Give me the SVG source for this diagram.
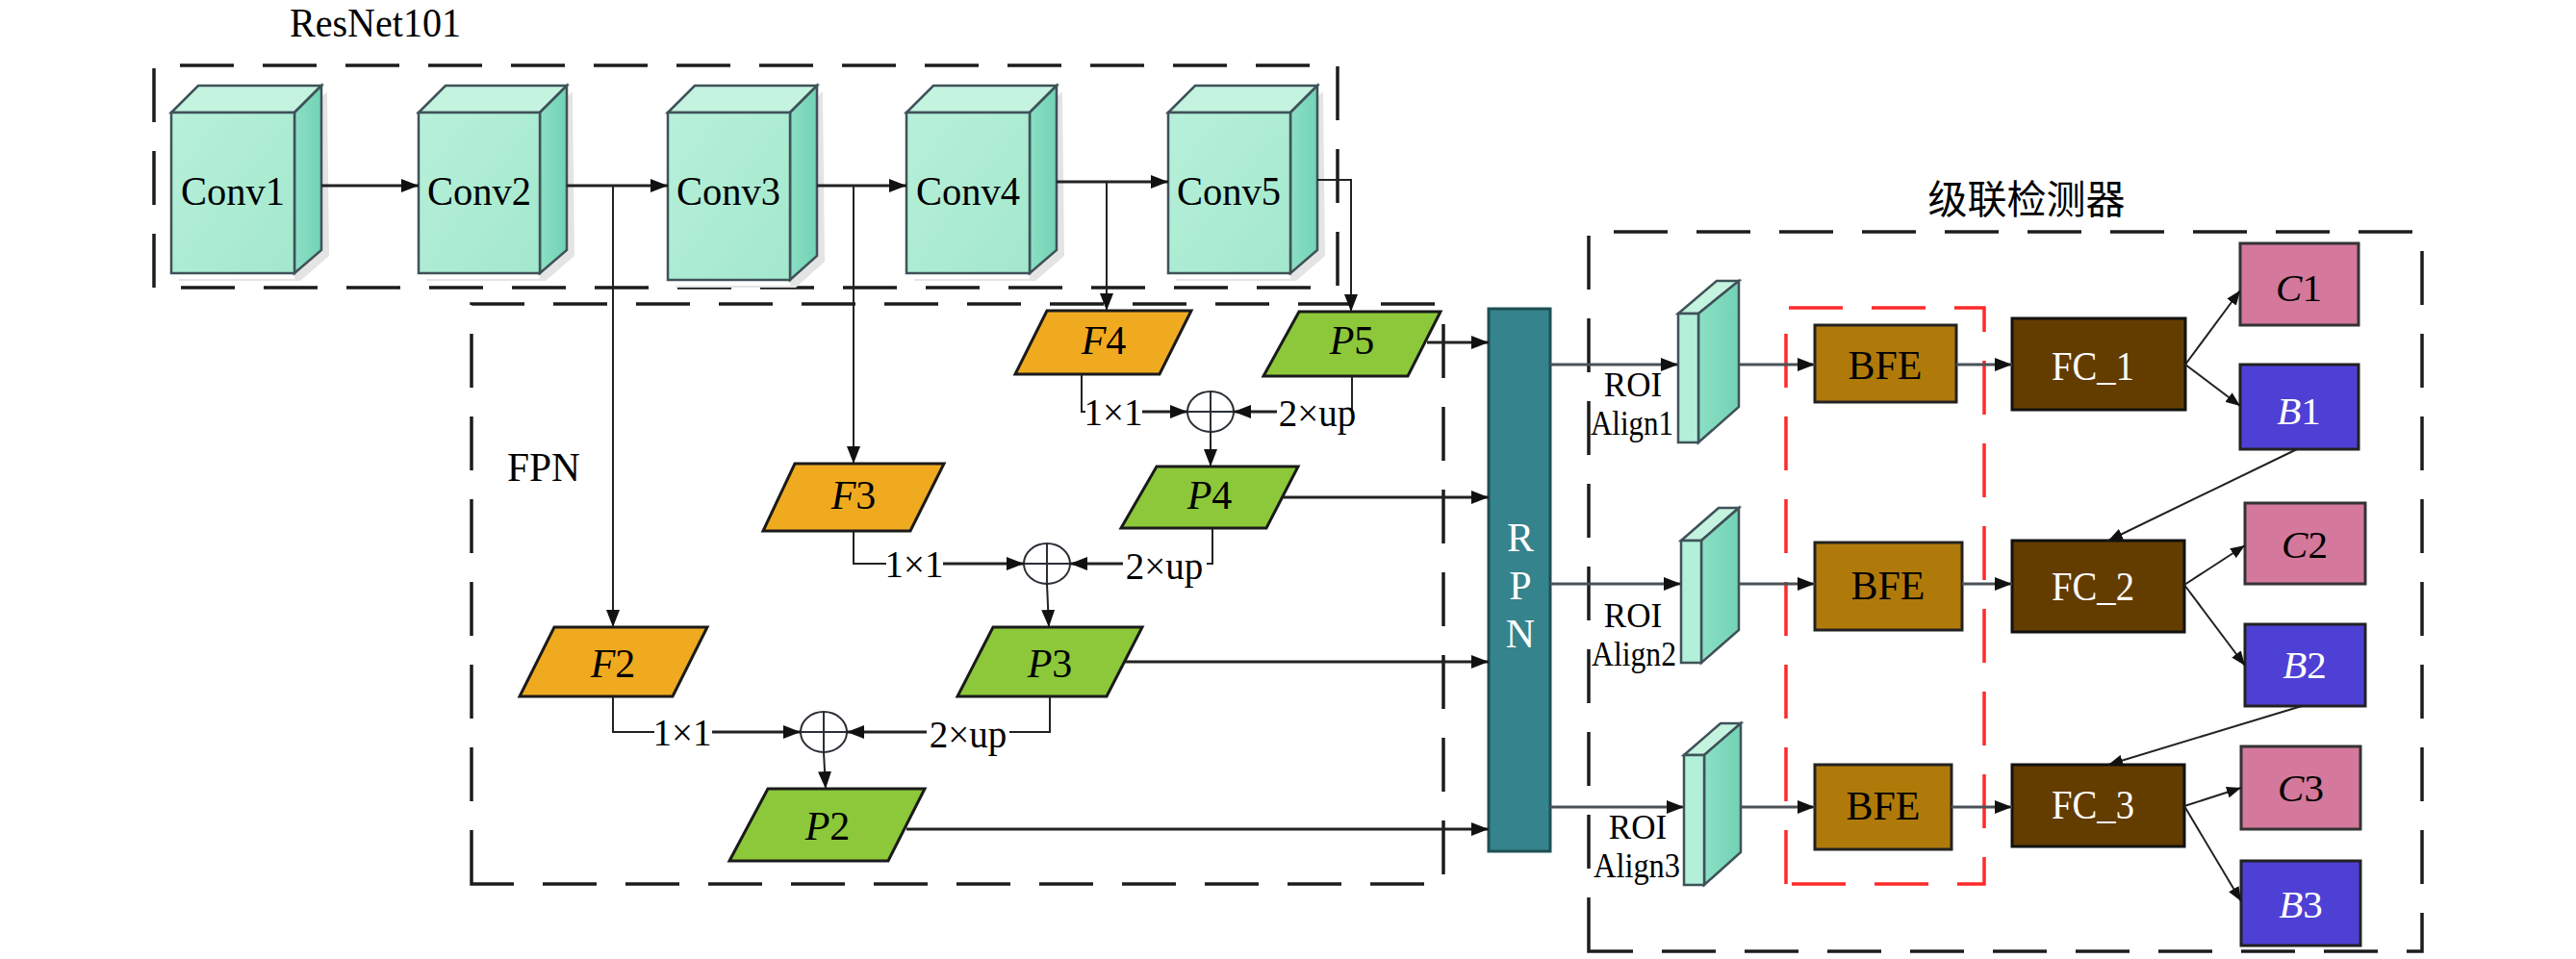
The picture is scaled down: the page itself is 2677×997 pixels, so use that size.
<svg xmlns="http://www.w3.org/2000/svg" width="2677" height="997" viewBox="0 0 2677 997">
<defs>
<style>
.dash{fill:none;stroke:#1c1c1c;stroke-width:3.5;stroke-dasharray:56 30}
.red{fill:none;stroke:#ff2a2a;stroke-width:3.5;stroke-dasharray:56 30}
.ln{fill:none;stroke:#222;stroke-width:2}
.lb{fill:none;stroke:#222;stroke-width:3}
.lg{fill:none;stroke:#4a5258;stroke-width:3}
.front{fill:url(#gFront);stroke:#3f5258;stroke-width:2.5}
.top{fill:#c4f3e0;stroke:#3f5258;stroke-width:2.5}
.side{fill:url(#gSide);stroke:#3f5258;stroke-width:2.5}
.shd{fill:#e4e4e4}
.fpar{fill:#f0aa20;stroke:#1a1a1a;stroke-width:3}
.ppar{fill:#8cc83a;stroke:#1a1a1a;stroke-width:3}
.circ{fill:none;stroke:#2a3036;stroke-width:2}
.t{font-family:"Liberation Serif","Times New Roman",serif;fill:#000}
.w{fill:#fff}
.i{font-style:italic}
</style>
<linearGradient id="gFront" x1="0" y1="0" x2="1" y2="1">
<stop offset="0" stop-color="#b8f0da"/><stop offset="1" stop-color="#a2e8cd"/>
</linearGradient>
<linearGradient id="gSide" x1="0" y1="0" x2="1" y2="0">
<stop offset="0" stop-color="#8be0c4"/><stop offset="1" stop-color="#72d2b5"/>
</linearGradient>
<marker id="ah" markerUnits="userSpaceOnUse" markerWidth="18" markerHeight="14" refX="18" refY="7" orient="auto">
<path d="M0,0 L18,7 L0,14 z" fill="#111"/>
</marker>
<marker id="ahs" markerUnits="userSpaceOnUse" markerWidth="15" markerHeight="12" refX="15" refY="6" orient="auto">
<path d="M0,0 L15,6 L0,12 z" fill="#111"/>
</marker>
</defs>
<rect width="2677" height="997" fill="#fff"/>

<!-- group boxes -->
<g id="resnet-box">
<path class="dash" d="M160,299 L160,68 L1390,68 L1390,299 Z"/>
<text class="t" x="301" y="38" font-size="42" textLength="178" lengthAdjust="spacingAndGlyphs">ResNet101</text>
</g>
<g id="fpn-box">
<path class="dash" d="M490,919 L490,316 L1500,316 L1500,919 Z"/>
<text class="t" x="527" y="500" font-size="42" textLength="76" lengthAdjust="spacingAndGlyphs">FPN</text>
</g>
<g id="cascade-box">
<path class="dash" d="M1651,989 L1651,241 L2517,241 L2517,989 Z"/>
<text x="2106" y="222" font-size="41" text-anchor="middle" font-family="'Noto Sans CJK SC','Noto Sans CJK JP',sans-serif" fill="#000">级联检测器</text>
</g>
<g id="bfe-box">
<path class="red" d="M1856,919 L1856,320 L2062,320 L2062,919 Z"/>
</g>

<!-- Conv cubes -->
<g id="conv1">
<polygon class="shd" points="312,123 340,95 342,266 312,292 186,292 186,290 306,290"/>
<polygon class="top" points="178,117 206,89 334,89 306,117"/>
<polygon class="side" points="306,117 334,89 334,260 306,284"/>
<rect class="front" x="178" y="117" width="128" height="167"/>
<text class="t" x="188" y="213" font-size="43" textLength="108" lengthAdjust="spacingAndGlyphs">Conv1</text>
</g>
<g id="conv2">
<polygon class="shd" points="567,123 595,95 597,266 567,292 443,292 443,290 561,290"/>
<polygon class="top" points="435,117 463,89 589,89 561,117"/>
<polygon class="side" points="561,117 589,89 589,260 561,284"/>
<rect class="front" x="435" y="117" width="126" height="167"/>
<text class="t" x="444" y="213" font-size="43" textLength="108" lengthAdjust="spacingAndGlyphs">Conv2</text>
</g>
<g id="conv3">
<polygon class="shd" points="827,123 855,95 857,272 827,299 702,299 702,297 821,297"/>
<polygon class="top" points="694,117 722,89 849,89 821,117"/>
<polygon class="side" points="821,117 849,89 849,266 821,291"/>
<rect class="front" x="694" y="117" width="127" height="174"/>
<text class="t" x="703" y="213" font-size="43" textLength="108" lengthAdjust="spacingAndGlyphs">Conv3</text>
</g>
<g id="conv4">
<polygon class="shd" points="1076,123 1104,95 1106,266 1076,292 950,292 950,290 1070,290"/>
<polygon class="top" points="942,117 970,89 1098,89 1070,117"/>
<polygon class="side" points="1070,117 1098,89 1098,260 1070,284"/>
<rect class="front" x="942" y="117" width="128" height="167"/>
<text class="t" x="952" y="213" font-size="43" textLength="108" lengthAdjust="spacingAndGlyphs">Conv4</text>
</g>
<g id="conv5">
<polygon class="shd" points="1347,123 1375,95 1377,266 1347,292 1222,292 1222,290 1341,290"/>
<polygon class="top" points="1214,117 1242,89 1369,89 1341,117"/>
<polygon class="side" points="1341,117 1369,89 1369,260 1341,284"/>
<rect class="front" x="1214" y="117" width="127" height="167"/>
<text class="t" x="1223" y="213" font-size="43" textLength="108" lengthAdjust="spacingAndGlyphs">Conv5</text>
</g>

<!-- FPN nodes -->
<g id="F4">
<polygon class="fpar" points="1088,323 1238,323 1205,389 1055,389"/>
<text class="t" x="1147" y="368" font-size="42" text-anchor="middle"><tspan class="i">F</tspan>4</text>
</g>
<g id="P5">
<polygon class="ppar" points="1350,324 1497,324 1463,391 1313,391"/>
<text class="t" x="1405" y="368" font-size="42" text-anchor="middle"><tspan class="i">P</tspan>5</text>
</g>
<g id="F3">
<polygon class="fpar" points="826,482 981,482 946,552 793,552"/>
<text class="t" x="887" y="529" font-size="42" text-anchor="middle"><tspan class="i">F</tspan>3</text>
</g>
<g id="P4">
<polygon class="ppar" points="1202,485 1349,485 1316,549 1165,549"/>
<text class="t" x="1257" y="529" font-size="42" text-anchor="middle"><tspan class="i">P</tspan>4</text>
</g>
<g id="F2">
<polygon class="fpar" points="576,652 735,652 699,724 540,724"/>
<text class="t" x="637" y="704" font-size="42" text-anchor="middle"><tspan class="i">F</tspan>2</text>
</g>
<g id="P3">
<polygon class="ppar" points="1032,652 1187,652 1150,724 995,724"/>
<text class="t" x="1091" y="704" font-size="42" text-anchor="middle"><tspan class="i">P</tspan>3</text>
</g>
<g id="P2">
<polygon class="ppar" points="798,820 961,820 923,895 758,895"/>
<text class="t" x="860" y="873" font-size="42" text-anchor="middle"><tspan class="i">P</tspan>2</text>
</g>
<g id="add1">
<ellipse class="circ" cx="1258" cy="428" rx="24" ry="21"/>
<path class="circ" d="M1234,428 H1282 M1258,407 V449"/>
</g>
<g id="add2">
<ellipse class="circ" cx="1088" cy="586" rx="24" ry="21"/>
<path class="circ" d="M1064,586 H1112 M1088,565 V607"/>
</g>
<g id="add3">
<ellipse class="circ" cx="856" cy="761" rx="24" ry="21"/>
<path class="circ" d="M832,761 H880 M856,740 V782"/>
</g>

<!-- RPN -->
<g id="RPN">
<rect x="1547" y="321" width="64" height="564" fill="#35838c" stroke="#1f4f55" stroke-width="3"/>
<text class="t w" x="1580" y="573" font-size="42" text-anchor="middle">R</text>
<text class="t w" x="1580" y="623" font-size="42" text-anchor="middle">P</text>
<text class="t w" x="1580" y="673" font-size="42" text-anchor="middle">N</text>
</g>

<!-- ROI Align slabs -->
<g id="roi1">
<polygon class="top" points="1744,326 1784,292 1807,292 1765,326"/>
<polygon class="side" points="1765,326 1807,292 1807,423 1765,460"/>
<rect x="1744" y="326" width="21" height="134" fill="#b2f0da" stroke="#3f5258" stroke-width="2.5"/>
<text class="t" x="1697" y="412" font-size="35" text-anchor="middle">ROI</text>
<text class="t" x="1696" y="452" font-size="35" text-anchor="middle" textLength="86" lengthAdjust="spacingAndGlyphs">Align1</text>
</g>
<g id="roi2">
<polygon class="top" points="1747,562 1786,528 1807,528 1768,562"/>
<polygon class="side" points="1768,562 1807,528 1807,655 1768,689"/>
<rect x="1747" y="562" width="21" height="127" fill="#b2f0da" stroke="#3f5258" stroke-width="2.5"/>
<text class="t" x="1697" y="652" font-size="35" text-anchor="middle">ROI</text>
<text class="t" x="1698" y="692" font-size="35" text-anchor="middle" textLength="88" lengthAdjust="spacingAndGlyphs">Align2</text>
</g>
<g id="roi3">
<polygon class="top" points="1750,785 1788,752 1809,752 1771,785"/>
<polygon class="side" points="1771,785 1809,752 1809,886 1771,920"/>
<rect x="1750" y="785" width="21" height="135" fill="#b2f0da" stroke="#3f5258" stroke-width="2.5"/>
<text class="t" x="1702" y="872" font-size="35" text-anchor="middle">ROI</text>
<text class="t" x="1701" y="912" font-size="35" text-anchor="middle" textLength="90" lengthAdjust="spacingAndGlyphs">Align3</text>
</g>

<!-- BFE -->
<g id="bfe1">
<rect x="1886" y="338" width="147" height="80" fill="#b07a0b" stroke="#222" stroke-width="3"/>
<text class="t" x="1959" y="394" font-size="42" text-anchor="middle">BFE</text>
</g>
<g id="bfe2">
<rect x="1886" y="564" width="153" height="91" fill="#b07a0b" stroke="#222" stroke-width="3"/>
<text class="t" x="1962" y="623" font-size="42" text-anchor="middle">BFE</text>
</g>
<g id="bfe3">
<rect x="1886" y="795" width="142" height="88" fill="#b07a0b" stroke="#222" stroke-width="3"/>
<text class="t" x="1957" y="852" font-size="42" text-anchor="middle">BFE</text>
</g>

<!-- FC -->
<g id="fc1">
<rect x="2091" y="331" width="180" height="95" fill="#633c00" stroke="#111" stroke-width="3"/>
<text class="t w" x="2132" y="395" font-size="42" textLength="86" lengthAdjust="spacingAndGlyphs">FC_1</text>
</g>
<g id="fc2">
<rect x="2091" y="562" width="179" height="95" fill="#633c00" stroke="#111" stroke-width="3"/>
<text class="t w" x="2132" y="624" font-size="42" textLength="86" lengthAdjust="spacingAndGlyphs">FC_2</text>
</g>
<g id="fc3">
<rect x="2091" y="795" width="179" height="85" fill="#633c00" stroke="#111" stroke-width="3"/>
<text class="t w" x="2132" y="851" font-size="42" textLength="86" lengthAdjust="spacingAndGlyphs">FC_3</text>
</g>

<!-- outputs -->
<g id="C1">
<rect x="2328" y="253" width="123" height="85" fill="#d4789c" stroke="#333" stroke-width="3"/>
<text class="t" x="2389" y="313" font-size="41" text-anchor="middle"><tspan class="i">C</tspan>1</text>
</g>
<g id="B1">
<rect x="2328" y="379" width="123" height="88" fill="#4e40d4" stroke="#222" stroke-width="3"/>
<text class="t w" x="2389" y="441" font-size="41" text-anchor="middle"><tspan class="i">B</tspan>1</text>
</g>
<g id="C2">
<rect x="2333" y="523" width="125" height="84" fill="#d4789c" stroke="#333" stroke-width="3"/>
<text class="t" x="2395" y="580" font-size="41" text-anchor="middle"><tspan class="i">C</tspan>2</text>
</g>
<g id="B2">
<rect x="2333" y="649" width="125" height="85" fill="#4e40d4" stroke="#222" stroke-width="3"/>
<text class="t w" x="2395" y="705" font-size="41" text-anchor="middle"><tspan class="i">B</tspan>2</text>
</g>
<g id="C3">
<rect x="2329" y="776" width="124" height="86" fill="#d4789c" stroke="#333" stroke-width="3"/>
<text class="t" x="2391" y="833" font-size="41" text-anchor="middle"><tspan class="i">C</tspan>3</text>
</g>
<g id="B3">
<rect x="2329" y="895" width="124" height="88" fill="#4e40d4" stroke="#222" stroke-width="3"/>
<text class="t w" x="2391" y="954" font-size="41" text-anchor="middle"><tspan class="i">B</tspan>3</text>
</g>

<!-- connectors -->
<g id="connectors">
<path class="lb" d="M334,193 H435" marker-end="url(#ah)"/>
<path class="lb" d="M589,193 H694" marker-end="url(#ah)"/>
<path class="lb" d="M849,193 H942" marker-end="url(#ah)"/>
<path class="lb" d="M1098,189 H1214" marker-end="url(#ah)"/>
<path class="ln" d="M637,193 V652" marker-end="url(#ah)"/>
<path class="ln" d="M887,193 V482" marker-end="url(#ah)"/>
<path class="ln" d="M1150,189 V323" marker-end="url(#ah)"/>
<path class="ln" d="M1369,187 H1404 V324" marker-end="url(#ah)"/>

<!-- F4/P5 merge -->
<path class="ln" d="M1124,389 V428 H1128"/>
<text class="t" x="1157" y="442" font-size="39" text-anchor="middle">1×1</text>
<path class="lb" d="M1187,428 H1234" marker-end="url(#ah)"/>
<path class="ln" d="M1405,391 V428"/>
<text class="t" x="1369" y="443" font-size="39" text-anchor="middle">2×up</text>
<path class="lb" d="M1327,428 H1282" marker-end="url(#ah)"/>
<path class="ln" d="M1258,449 V485" marker-end="url(#ah)"/>

<!-- F3/P4 merge -->
<path class="ln" d="M887,552 V586 H921"/>
<text class="t" x="950" y="600" font-size="39" text-anchor="middle">1×1</text>
<path class="lb" d="M980,586 H1064" marker-end="url(#ah)"/>
<path class="ln" d="M1260,549 V586 H1254"/>
<text class="t" x="1210" y="602" font-size="39" text-anchor="middle">2×up</text>
<path class="lb" d="M1167,586 H1112" marker-end="url(#ah)"/>
<path class="ln" d="M1088,607 L1090,652" marker-end="url(#ah)"/>

<!-- F2/P3 merge -->
<path class="ln" d="M637,724 V761 H680"/>
<text class="t" x="709" y="775" font-size="39" text-anchor="middle">1×1</text>
<path class="lb" d="M740,761 H832" marker-end="url(#ah)"/>
<path class="ln" d="M1091,724 V761 H1049"/>
<text class="t" x="1006" y="777" font-size="39" text-anchor="middle">2×up</text>
<path class="lb" d="M963,761 H880" marker-end="url(#ah)"/>
<path class="ln" d="M856,782 L858,820" marker-end="url(#ah)"/>

<!-- P -> RPN -->
<path class="lb" d="M1483,356 H1547" marker-end="url(#ah)"/>
<path class="lb" d="M1333,517 H1547" marker-end="url(#ah)"/>
<path class="lb" d="M1168,688 H1547" marker-end="url(#ah)"/>
<path class="lb" d="M942,862 H1547" marker-end="url(#ah)"/>

<!-- RPN -> ROI -> BFE -> FC -->
<path class="lg" d="M1611,379 H1744" marker-end="url(#ah)"/>
<path class="lg" d="M1611,607 H1747" marker-end="url(#ah)"/>
<path class="lg" d="M1611,839 H1750" marker-end="url(#ah)"/>
<path class="lg" d="M1807,379 H1886" marker-end="url(#ah)"/>
<path class="lg" d="M1807,607 H1886" marker-end="url(#ah)"/>
<path class="lg" d="M1809,839 H1886" marker-end="url(#ah)"/>
<path class="lg" d="M2033,379 H2091" marker-end="url(#ah)"/>
<path class="lg" d="M2039,607 H2091" marker-end="url(#ah)"/>
<path class="lg" d="M2028,839 H2091" marker-end="url(#ah)"/>

<!-- FC -> outputs -->
<path class="ln" d="M2271,379 L2328,302" marker-end="url(#ahs)"/>
<path class="ln" d="M2271,379 L2328,422" marker-end="url(#ahs)"/>
<path class="ln" d="M2270,608 L2333,567" marker-end="url(#ahs)"/>
<path class="ln" d="M2270,608 L2333,692" marker-end="url(#ahs)"/>
<path class="ln" d="M2270,838 L2329,819" marker-end="url(#ahs)"/>
<path class="ln" d="M2270,838 L2329,937" marker-end="url(#ahs)"/>
<path class="ln" d="M2387,467 L2191,562" marker-end="url(#ahs)"/>
<path class="ln" d="M2392,734 L2191,795" marker-end="url(#ahs)"/>
</g>
</svg>
